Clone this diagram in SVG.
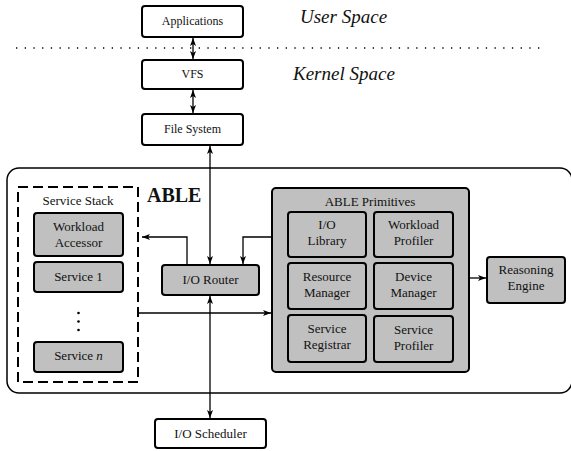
<svg xmlns="http://www.w3.org/2000/svg" width="571" height="451" viewBox="0 0 571 451">
<defs>
<marker id="ah" viewBox="0 0 8 6" refX="8" refY="3" markerWidth="8" markerHeight="6" markerUnits="userSpaceOnUse" orient="auto-start-reverse">
<path d="M0,0 L8,3 L0,6 L2,3 Z" fill="#000"/>
</marker>
</defs>
<style>
text{font-family:"Liberation Serif","Times New Roman",serif;fill:#111;text-anchor:middle}
.t12{font-size:12px}
.t13{font-size:13px}
.wb{fill:#fff;stroke:#000;stroke-width:2}
.gb{fill:#c0c0c0;stroke:#000;stroke-width:2}
.ln{fill:none;stroke:#000;stroke-width:1.3}
.it{font-style:italic;font-size:19px;text-anchor:start}
</style>
<rect width="571" height="451" fill="#fff"/>
<text class="it" x="300" y="23">User Space</text>
<text class="it" x="293" y="80">Kernel Space</text>
<line x1="16" y1="48" x2="540" y2="48" stroke="#000" stroke-width="1.3" stroke-dasharray="1.3 7.4"/>
<g id="outer"><rect x="7" y="168" width="565" height="225" rx="12" fill="none" stroke="#000" stroke-width="1.5"/></g>
<text x="147" y="202" style="font-size:20px;font-weight:bold;text-anchor:start">ABLE</text>
<g id="applications"><rect class="wb" x="142" y="6" width="101" height="31" rx="3"/><text class="t12" x="192.5" y="25">Applications</text></g>
<g id="vfs"><rect class="wb" x="142" y="60" width="101" height="29" rx="3"/><text class="t12" x="192.5" y="78">VFS</text></g>
<g id="filesystem"><rect class="wb" x="142" y="114" width="101" height="31" rx="3"/><text class="t12" x="192.5" y="133">File System</text></g>
<g id="servicestack"><rect x="18" y="187" width="120" height="195" fill="none" stroke="#000" stroke-width="2" stroke-dasharray="10 5"/><text class="t13" x="78" y="205">Service Stack</text></g>
<g id="workloadaccessor"><rect class="gb" x="34" y="213" width="89" height="43" rx="3"/><text class="t13" x="78.5" y="231">Workload</text><text class="t13" x="78.5" y="247">Accessor</text></g>
<g id="service1"><rect class="gb" x="34" y="262" width="89" height="30" rx="3"/><text class="t13" x="78.5" y="281">Service 1</text></g>
<g id="dots"><circle cx="78.5" cy="313" r="1.3"/><circle cx="78.5" cy="321.5" r="1.3"/><circle cx="78.5" cy="330" r="1.3"/></g>
<g id="servicen"><rect class="gb" x="34" y="342" width="89" height="30" rx="3"/><text class="t13" x="78.5" y="360">Service <tspan font-style="italic">n</tspan></text></g>
<g id="iorouter"><rect class="gb" x="162" y="265" width="97" height="30" rx="3"/><text class="t13" x="210.5" y="284">I/O Router</text></g>
<g id="primitives"><rect class="gb" x="272" y="188" width="197" height="184" rx="4"/><text class="t13" x="370" y="206">ABLE Primitives</text></g>
<g id="iolibrary"><rect class="gb" x="288" y="212" width="78" height="45" rx="3"/><text class="t13" x="327" y="229">I/O</text><text class="t13" x="327" y="245">Library</text></g>
<g id="workloadprofiler"><rect class="gb" x="374" y="212" width="79" height="45" rx="3"/><text class="t13" x="413.5" y="229">Workload</text><text class="t13" x="413.5" y="245">Profiler</text></g>
<g id="resourcemanager"><rect class="gb" x="288" y="263" width="78" height="46" rx="3"/><text class="t13" x="327" y="281">Resource</text><text class="t13" x="327" y="297">Manager</text></g>
<g id="devicemanager"><rect class="gb" x="374" y="263" width="79" height="46" rx="3"/><text class="t13" x="413.5" y="281">Device</text><text class="t13" x="413.5" y="297">Manager</text></g>
<g id="serviceregistrar"><rect class="gb" x="288" y="315" width="78" height="47" rx="3"/><text class="t13" x="327" y="333">Service</text><text class="t13" x="327" y="349">Registrar</text></g>
<g id="serviceprofiler"><rect class="gb" x="374" y="316" width="79" height="46" rx="3"/><text class="t13" x="413.5" y="334">Service</text><text class="t13" x="413.5" y="350">Profiler</text></g>
<g id="reasoning"><rect class="gb" x="487" y="257" width="78" height="46" rx="3"/><text class="t13" x="526" y="274">Reasoning</text><text class="t13" x="526" y="290">Engine</text></g>
<g id="ioscheduler"><rect class="wb" x="155" y="419" width="111" height="29" rx="3"/><text class="t13" x="210.5" y="438">I/O Scheduler</text></g>
<g id="connectors">
<line class="ln" x1="193" y1="38" x2="193" y2="59" marker-start="url(#ah)" marker-end="url(#ah)"/>
<line class="ln" x1="193" y1="90" x2="193" y2="113" marker-start="url(#ah)" marker-end="url(#ah)"/>
<line class="ln" x1="210" y1="146" x2="210" y2="264" marker-start="url(#ah)" marker-end="url(#ah)"/>
<line class="ln" x1="210" y1="296" x2="210" y2="418" marker-start="url(#ah)" marker-end="url(#ah)"/>
<polyline class="ln" points="187,265 187,237 142,237" marker-end="url(#ah)"/>
<polyline class="ln" points="272,237 243,237 243,264" marker-end="url(#ah)"/>
<line class="ln" x1="139" y1="313" x2="271" y2="313" marker-end="url(#ah)"/>
<line class="ln" x1="469" y1="278" x2="486" y2="278" marker-end="url(#ah)"/>
</g>
</svg>
